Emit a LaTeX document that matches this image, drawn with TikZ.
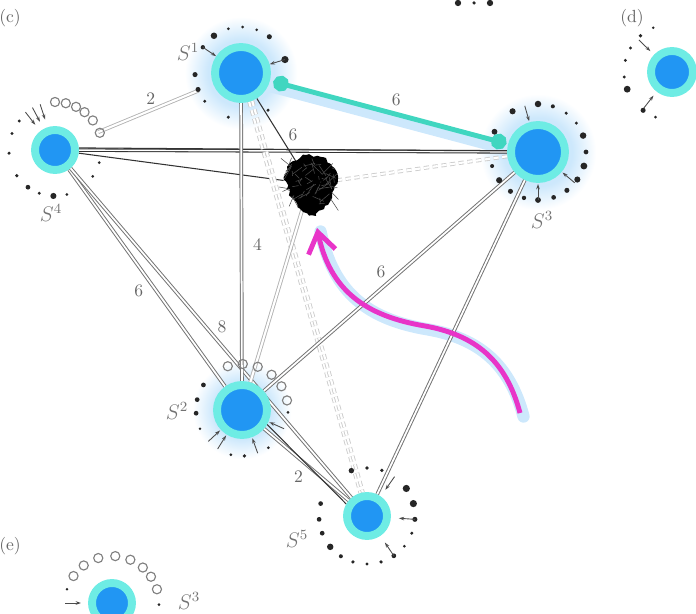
\documentclass[tikz,border=0pt]{standalone}
\usetikzlibrary{arrows.meta}
\usetikzlibrary{decorations.pathmorphing}
\usetikzlibrary{positioning}

\definecolor{sitefill}{RGB}{33,150,243}
\definecolor{siterim}{RGB}{110,236,228}
\definecolor{linkcyan}{RGB}{64,214,192}
\definecolor{arrowpink}{RGB}{232,52,200}
\definecolor{glowblue}{RGB}{205,232,252}

\pgfdeclareradialshading{haze}{\pgfpoint{0cm}{0cm}}{color(0bp)=(glowblue); color(13bp)=(glowblue); color(22bp)=(white); color(50bp)=(white)}

\pgfdeclarelayer{glow}
\pgfdeclarelayer{back}
\pgfsetlayers{glow,back,main}

\tikzset{
  site/.style={circle, fill=sitefill, draw=siterim, line width=4.5pt, inner sep=0pt, minimum size=#1},
  bond/.style={draw=black!55, double=white, double distance=1pt, line width=0.55pt},
  pale/.style={draw=black!30, double=white, double distance=1.2pt, line width=0.5pt},
  faint/.style={draw=black!20, densely dashed, double=white, double distance=1.2pt, line width=0.5pt},
  wire/.style={draw=black!80, line width=0.6pt},
  link/.style={draw=linkcyan, line width=2.8pt, {Circle[length=9pt]}-{Circle[length=9pt]}},
  sweep/.style={draw=arrowpink, line width=2.8pt, -{Straight Barb[length=4mm, width=5.5mm]}},
  halo/.style={draw=glowblue, line width=7pt, line cap=round},
  stem/.style={draw=black!70, line width=0.5pt, -{Stealth[length=3pt, width=2pt]}},
  hole/.style={draw=black!50, line width=0.65pt},
  lab/.style={text=black!55, font=\large},
  tag/.style={text=black!60},
  num/.style={text=black!60},
}

% rings of sites round a node
\newcommand{\ringdots}[3]{\foreach \ang/\sz in {#3} \fill[black!85] (#1.center) ++(\ang:#2) circle ({(\sz+0.25)*1pt});}
\newcommand{\ringholes}[3]{\foreach \ang in {#3} \draw[hole] (#1.center) ++(\ang:#2) circle (2.6pt);}
\newcommand{\ringstems}[3]{\foreach \ang in {#3} \draw[stem] (#1.center) ++(\ang:#2) -- ++({\ang+180}:16);}

\begin{document}
\begin{tikzpicture}[x=0.02cm, y=0.02cm]
  \useasboundingbox (0,0) rectangle (696,-614);

  \node (s1) [site=1.04cm] at (241,-73) {};
  \node (s3) [site=1.08cm] at (538,-152) {};
  \node (s4) [site=0.8cm] at (55,-150) {};
  \node (s2) [site=1cm] at (242,-410) {};
  \node (s5) [site=0.8cm] at (367,-516) {};
  \node (sd) [site=0.84cm] at (672,-72) {};
  \node (se) [site=0.8cm] at (112,-603) {};
  \node (knot) [circle, minimum size=1.05cm] at (310,-184) {};

  \coordinate (tail) at (520,-413);
  \coordinate (tip) at (317,-228);

  \begin{pgfonlayer}{glow}
    \shade[shading=haze] (s1.center) circle (64);
    \shade[shading=haze] (s3.center) circle (66);
    \shade[shading=haze] (s2.center) circle (56);
    \draw[halo] ([yshift=-3pt]s1.center) -- ([yshift=-3pt]s3.center);
    \draw[halo, transform canvas={xshift=2pt, yshift=-2pt}] (tail) .. controls (506,-360) and (475,-335) .. (425,-326) .. controls (365,-316) and (330,-290) .. (tip);
  \end{pgfonlayer}

  \begin{pgfonlayer}{back}
    \draw[pale, shorten <=13pt, shorten >=9pt] (s4) -- node[num, pos=0.54, above] {2} (s1);
    \draw[wire, double=white, double distance=0.8pt] (s4) -- node[num, pos=0.5, above=2pt] {6} (s3);
    \draw[wire] (s4.5) -- (s3.178);
    \draw[wire] (s4) -- (knot);
    \draw[bond] (s4) -- node[num, pos=0.56, left=4pt] {6} (s2);
    \draw[bond] (s4) -- node[num, pos=0.51, above right=-2pt] {8} (s5);
    \draw[bond] (s1) -- node[num, pos=0.51, right=3pt] {4} (s2);
    \draw[faint] (s1) -- (s5);
    \draw[faint] (s1.-68) -- (s5.100);
    \draw[wire] (s1) -- (knot);
    \draw[faint] (s3) -- (knot);
    \draw[bond] (s3) -- node[num, pos=0.5, above left=-2pt] {6} (s2);
    \draw[bond] (s3) -- (s5);
    \draw[pale] (s2) -- (knot);
    \draw[bond] (s2) -- node[num, pos=0.52, below left=-1pt] {2} (s5);
    \draw[wire] (s2.-30) -- (s5.150);
  \end{pgfonlayer}

  % the knot
  \pgfmathsetseed{7}
  \fill[black, decorate, decoration={random steps, segment length=2pt, amplitude=1pt}]
    (290,-163) -- (306,-155) -- (326,-158) -- (338,-176) -- (332,-198) -- (316,-216)
    -- (303,-212) -- (292,-198) -- (284,-180) -- cycle;
  \foreach \i in {1,...,60}
    \draw[black!70, line width=0.3pt] (knot.center) ++(rand*24, rand*22) -- ++(rand*12, rand*12);

  \draw[link, shorten <=2pt, shorten >=1pt] (s1) -- node[num, pos=0.53, above] {6} (s3);
  \draw[sweep] (tail) .. controls (506,-360) and (475,-335) .. (425,-326) .. controls (365,-316) and (330,-290) .. (tip);

  \ringdots{s1}{46}{126/1.6, 106/0.6, 88/0.6, 70/0.6, 52/1.2, 17/1.8, 182/1.2, 201/1.2, 218/0.7, 254/0.7, 306/0.7, 146/1.0}
  \ringstems{s1}{46}{17,146}
  \ringdots{s3}{48}{90/1.6, 72/0.9, 54/0.7, 37/0.7, 20/1.6, 0/1.1, -17/1.7, -35/1.5, -53/1.2, -71/1.1, -90/1.4, -107/1.0, -125/1.2, -144/1.5, -163/0.9, 155/1.4, 122/1.5}
  \ringstems{s3}{48}{106,-40,-90}
  \ringholes{s4}{48}{21,38,52,64,77,90}
  \ringdots{s4}{46}{141/0.7, 159/0.7, 184/0.7, 214/0.8, 234/1.1, 250/0.7, 268/1.5, 285/0.6, 325/0.6, 344/0.6}
  \ringstems{s4}{48}{108,118,128}
  \ringholes{s2}{46}{108,89,70,50,31,12}
  \ringdots{s2}{46}{147/1.1, 167/1.1, 184/1.1, 204/0.5, 256/0.6, 273/0.8, 305/0.6, 357/0.6}
  \ringstems{s2}{46}{223,238,290,336}
  \ringdots{s5}{48}{109/1.3, 90/0.8, 72/0.8, 35/1.8, 15/1.8, -4/1.2, -21/0.7, -39/0.6, -56/1.1, -73/0.8, -90/0.7, -107/0.8, -123/0.9, -140/1.6, -159/1.1, -176/1.1, 165/1.1}
  \ringstems{s5}{48}{55,-4,-56}
  \ringdots{sd}{48}{131/0.8, 113/0.5, 150/0.7, 166/0.7, 186/0.7, 201/1.7, 233/1.2, 250/0.6}
  \ringstems{sd}{46}{136,232}
  \ringholes{se}{47}{145,127,107,86,67,49,34,17}
  \ringdots{se}{47}{358/0.6, 163/0.5}
  \ringstems{se}{47}{180}
  \foreach \x/\sz in {458/1.8, 474/1.0, 490/1.8} \fill[black!85] (\x,-3) circle (\sz pt);

  \node[tag] (tc) at (10,-18) {(c)};
  \node[tag] (td) at (632,-18) {(d)};
  \node[tag] (te) at (10,-546) {(e)};
  \node[lab] (l1) at (188,-52) {$S^1$};
  \node[lab] (l4) at (51,-213) {$S^4$};
  \node[lab] (l3) at (542,-220) {$S^3$};
  \node[lab] (l2) at (177,-411) {$S^2$};
  \node[lab] (l5) at (297,-539) {$S^5$};
  \node[lab] (le) at (189,-601) {$S^3$};
\end{tikzpicture}
\end{document}
